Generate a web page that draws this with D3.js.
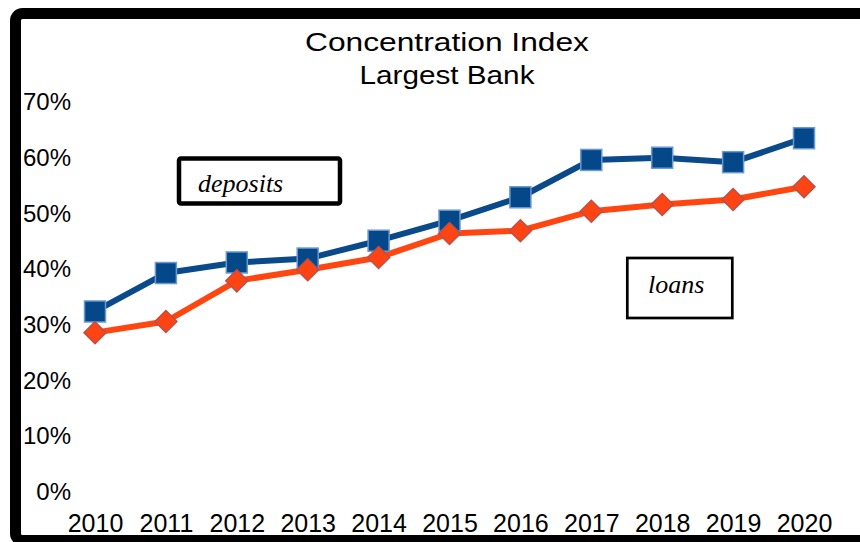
<!DOCTYPE html>
<html>
<head>
<meta charset="utf-8">
<script src="https://cdn.jsdelivr.net/npm/d3@7"></script>
<style>
  html, body { margin: 0; padding: 0; background: #fff; }
  svg { display: block; }
</style>
</head>
<body>
<svg id="chart" width="860" height="542"></svg>
<script>
// Share of the market held by the largest bank, 2010-2020
const years = [2010, 2011, 2012, 2013, 2014, 2015, 2016, 2017, 2018, 2019, 2020];
const deposits = [0.324, 0.393, 0.412, 0.419, 0.451, 0.487, 0.529, 0.596, 0.600, 0.592, 0.635];
const loans = [0.286, 0.306, 0.379, 0.399, 0.421, 0.464, 0.469, 0.504, 0.516, 0.525, 0.548];
const yTicks = [0, 0.1, 0.2, 0.3, 0.4, 0.5, 0.6, 0.7];
const titleLines = ["Concentration Index", "Largest Bank"];

const svg = d3.select("#chart");
const W = 860, H = 542;

svg.append("rect").attr("width", W).attr("height", H).attr("fill", "#fff");

// Heavy outer frame (right edge runs past the canvas)
svg.append("rect")
  .attr("x", 15.5).attr("y", 13.5)
  .attr("width", 880).attr("height", 527)
  .attr("rx", 7)
  .attr("fill", "none")
  .attr("stroke", "#000")
  .attr("stroke-width", 11);

const x = d3.scaleLinear().domain([2010, 2020]).range([95, 804]);
const y = d3.scaleLinear().domain([0, 0.7]).range([492, 102]);

// Title
const titleLen = [284, 175];
svg.selectAll("text.title")
  .data(titleLines)
  .join("text")
  .attr("class", "title")
  .attr("x", 447)
  .attr("y", (d, i) => 51 + i * 33)
  .attr("text-anchor", "middle")
  .attr("font-family", "Liberation Sans, Arial, sans-serif")
  .attr("font-size", 26)
  .attr("textLength", (d, i) => titleLen[i])
  .attr("lengthAdjust", "spacingAndGlyphs")
  .attr("fill", "#000")
  .text(d => d);

// Y axis labels
const yAxis = svg.append("g")
  .attr("transform", "translate(71,0)")
  .call(d3.axisLeft(y).tickValues(yTicks).tickFormat(d3.format(".0%")).tickSize(0).tickPadding(0));
yAxis.select(".domain").remove();
yAxis.selectAll("text")
  .attr("font-family", "Liberation Sans, Arial, sans-serif")
  .attr("font-size", 24)
  .attr("fill", "#000");

// X axis labels
const xAxis = svg.append("g")
  .attr("transform", "translate(0,514)")
  .call(d3.axisBottom(x).tickValues(years).tickFormat(d3.format("d")).tickSize(0).tickPadding(0));
xAxis.select(".domain").remove();
xAxis.selectAll("text")
  .attr("font-family", "Liberation Sans, Arial, sans-serif")
  .attr("font-size", 25)
  .attr("fill", "#000");

// Lines
const line = d3.line().x((d, i) => x(years[i])).y(d => y(d));

svg.append("path")
  .datum(deposits)
  .attr("d", line)
  .attr("fill", "none")
  .attr("stroke", "#0a4a8a")
  .attr("stroke-width", 6)
  .attr("stroke-linejoin", "round");

svg.append("path")
  .datum(loans)
  .attr("d", line)
  .attr("fill", "none")
  .attr("stroke", "#ff4611")
  .attr("stroke-width", 6)
  .attr("stroke-linejoin", "round");

// Square markers for deposits
const sq = 21;
svg.selectAll("rect.dep")
  .data(deposits)
  .join("rect")
  .attr("class", "dep")
  .attr("x", (d, i) => x(years[i]) - sq / 2)
  .attr("y", d => y(d) - sq / 2)
  .attr("width", sq).attr("height", sq)
  .attr("fill", "#05488a")
  .attr("stroke", "#6b98cf")
  .attr("stroke-width", 1.5);

// Diamond markers for loans
const dm = 11;
svg.selectAll("path.loan")
  .data(loans)
  .join("path")
  .attr("class", "loan")
  .attr("transform", (d, i) => `translate(${x(years[i])},${y(d)})`)
  .attr("d", `M0,${-dm}L${dm},0L0,${dm}L${-dm},0Z`)
  .attr("fill", "#ff4413")
  .attr("stroke", "#b9504a")
  .attr("stroke-width", 1.5);

// Series labels in boxes
svg.append("rect")
  .attr("x", 179).attr("y", 158.5)
  .attr("width", 161).attr("height", 45)
  .attr("rx", 2)
  .attr("fill", "#fff")
  .attr("stroke", "#000")
  .attr("stroke-width", 4.5);
svg.append("text")
  .attr("x", 198).attr("y", 192)
  .attr("font-family", "Liberation Serif, Times New Roman, serif")
  .attr("font-style", "italic")
  .attr("font-size", 26)
  .attr("fill", "#000")
  .text("deposits");

svg.append("rect")
  .attr("x", 627.3).attr("y", 258)
  .attr("width", 105).attr("height", 60)
  .attr("fill", "#fff")
  .attr("stroke", "#000")
  .attr("stroke-width", 2.7);
svg.append("text")
  .attr("x", 648).attr("y", 293)
  .attr("font-family", "Liberation Serif, Times New Roman, serif")
  .attr("font-style", "italic")
  .attr("font-size", 26)
  .attr("fill", "#000")
  .text("loans");
</script>
</body>
</html>
